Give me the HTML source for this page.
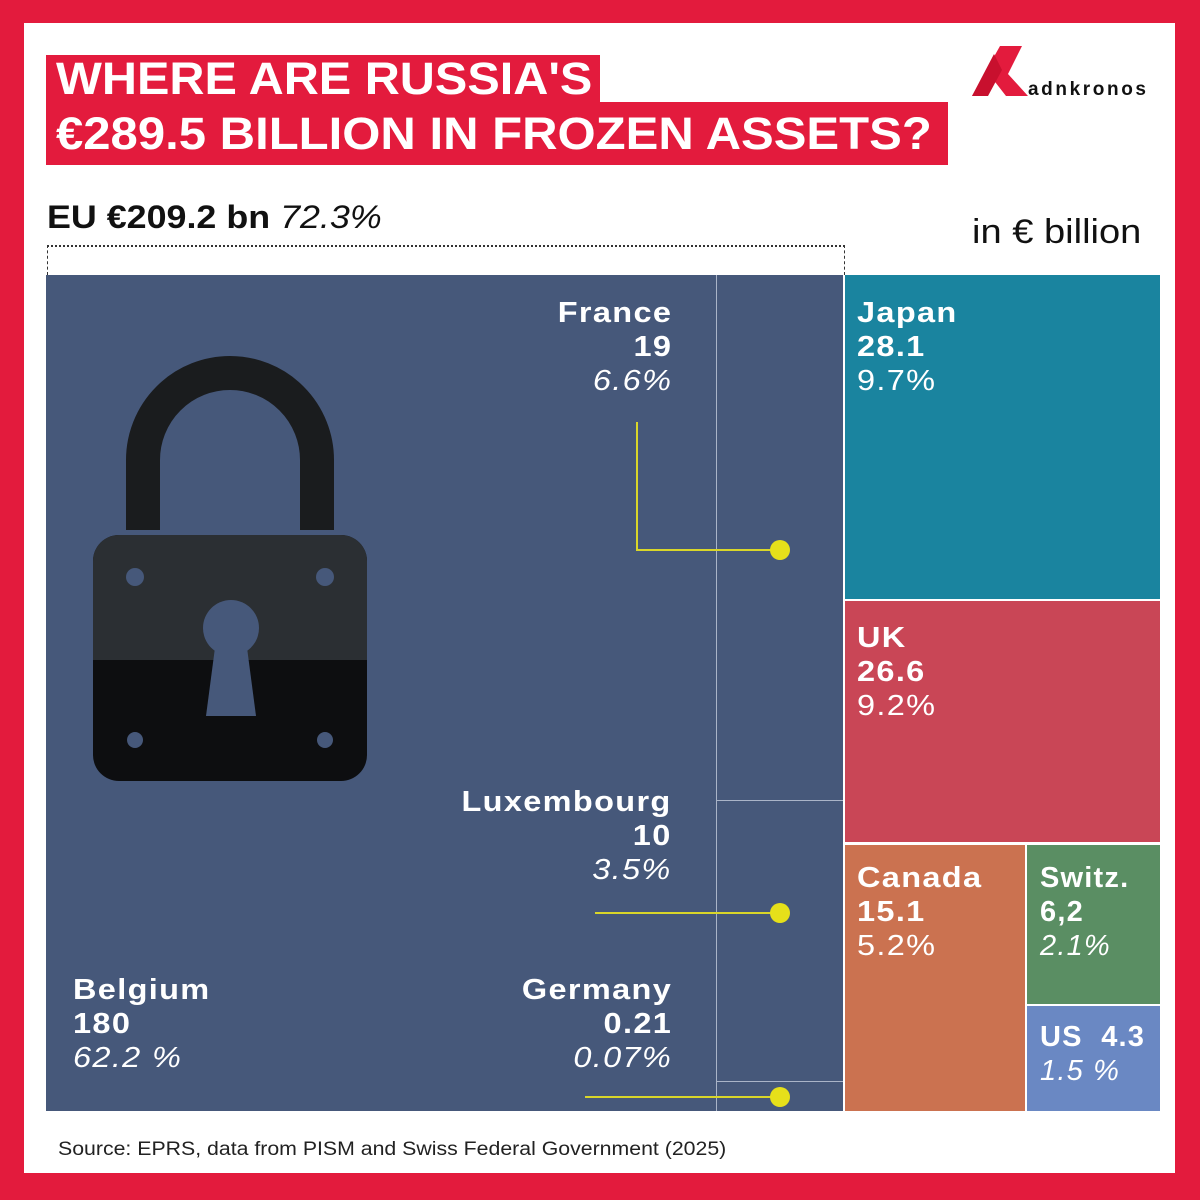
<!DOCTYPE html>
<html><head><meta charset="utf-8"><style>
body{margin:0;width:1200px;height:1200px;background:#e31b3d;position:relative;overflow:hidden;font-family:"Liberation Sans",sans-serif}
.w{position:absolute;left:24px;top:23px;width:1151px;height:1150px;background:#fff}
.a{position:absolute}
.t{color:#fff;font-weight:bold;font-size:29px;line-height:34px;letter-spacing:1.2px}
.t i{font-weight:normal}
.r{transform:scaleX(1.12);transform-origin:right}
.l{transform:scaleX(1.12);transform-origin:left}
</style></head><body>
<div class="w"></div>
<div class="a" style="left:46px;top:55px;width:554px;height:50px;background:#e31b3d"></div>
<div class="a" style="left:46px;top:102px;width:902px;height:63px;background:#e31b3d"></div>
<div class="a" style="left:56px;top:53px;color:#fff;font-weight:bold;font-size:45px;line-height:52px;transform:scaleX(1.08);transform-origin:left">WHERE ARE RUSSIA'S</div>
<div class="a" style="left:56px;top:108px;color:#fff;font-weight:bold;font-size:45px;line-height:52px;transform:scaleX(1.09);transform-origin:left">€289.5 BILLION IN FROZEN ASSETS?</div>
<svg class="a" style="left:970px;top:44px" width="190" height="60"><polygon points="30,2 52,2 38,30 58,52 36,52 22,34 8,52 2,52" fill="#e31b3d"/><polygon points="2,52 24,10 32,26 18,52" fill="#c8102e"/><text x="58" y="51" font-size="19" font-weight="bold" fill="#111" font-family="Liberation Sans" textLength="118">adnkronos</text></svg>
<div class="a l" style="left:47px;top:199px;font-size:32px;font-weight:bold;color:#111">EU €209.2 bn <i style="font-weight:normal">72.3%</i></div>
<div class="a l" style="left:972px;top:213px;font-size:34px;color:#111">in € billion</div>
<div class="a" style="left:47px;top:245px;width:796px;height:28px;border-top:2px dotted #333;border-left:1px dashed #333;border-right:1px dashed #333"></div>
<div class="a" style="left:46px;top:275px;width:797px;height:836px;background:#46587a"></div>
<div class="a" style="left:716px;top:275px;width:1px;height:836px;background:#aab4c8"></div>
<div class="a" style="left:716px;top:800px;width:127px;height:1px;background:#aab4c8"></div>
<div class="a" style="left:716px;top:1081px;width:127px;height:1px;background:#aab4c8"></div>
<div class="a" style="left:845px;top:275px;width:315px;height:324px;background:#1a849f"></div>
<div class="a" style="left:845px;top:601px;width:315px;height:241px;background:#c94656"></div>
<div class="a" style="left:845px;top:845px;width:180px;height:266px;background:#cb7250"></div>
<div class="a" style="left:1027px;top:845px;width:133px;height:159px;background:#5a8e63"></div>
<div class="a" style="left:1027px;top:1006px;width:133px;height:105px;background:#6a88c3"></div>
<svg class="a" style="left:0;top:0" width="1200" height="1200">
<polyline points="637,422 637,550 780,550" fill="none" stroke="#d9d62a" stroke-width="2"/><circle cx="780" cy="550" r="10" fill="#e6e01a"/>
<line x1="595" y1="913" x2="780" y2="913" stroke="#d9d62a" stroke-width="2"/><circle cx="780" cy="913" r="10" fill="#e6e01a"/>
<line x1="585" y1="1097" x2="780" y2="1097" stroke="#d9d62a" stroke-width="2"/><circle cx="780" cy="1097" r="10" fill="#e6e01a"/>
<path d="M143,530 V460 A87,87 0 0 1 317,460 V530" fill="none" stroke="#1a1c1e" stroke-width="34"/>
<rect x="93" y="535" width="274" height="246" rx="26" fill="#0d0e10"/>
<path d="M93,660 V561 A26,26 0 0 1 119,535 H341 A26,26 0 0 1 367,561 V660 Z" fill="#2b2f33"/>
<circle cx="231" cy="628" r="28" fill="#46587a"/><polygon points="216,640 246,640 256,716 206,716" fill="#46587a"/>
<circle cx="135" cy="577" r="9" fill="#46587a"/><circle cx="325" cy="577" r="9" fill="#46587a"/><circle cx="135" cy="740" r="8" fill="#46587a"/><circle cx="325" cy="740" r="8" fill="#46587a"/>
</svg>
<div class="a t r" style="right:528px;top:296px;text-align:right">France<br>19<br><i>6.6%</i></div>
<div class="a t r" style="right:528px;top:785px;text-align:right">Luxembourg<br>10<br><i>3.5%</i></div>
<div class="a t r" style="right:528px;top:973px;text-align:right">Germany<br>0.21<br><i>0.07%</i></div>
<div class="a t l" style="left:73px;top:973px">Belgium<br>180<br><i>62.2 %</i></div>
<div class="a t l" style="left:857px;top:296px">Japan<br>28.1<br><i style="font-style:normal">9.7%</i></div>
<div class="a t l" style="left:857px;top:621px">UK<br>26.6<br><i style="font-style:normal">9.2%</i></div>
<div class="a t l" style="left:857px;top:861px">Canada<br>15.1<br><i style="font-style:normal">5.2%</i></div>
<div class="a t" style="left:1040px;top:861px">Switz.<br>6,2<br><i>2.1%</i></div>
<div class="a t" style="left:1040px;top:1020px">US&nbsp; 4.3<br><i>1.5 %</i></div>
<div class="a l" style="left:58px;top:1139px;font-size:19px;color:#222">Source: EPRS, data from PISM and Swiss Federal Government (2025)</div>
</body></html>
